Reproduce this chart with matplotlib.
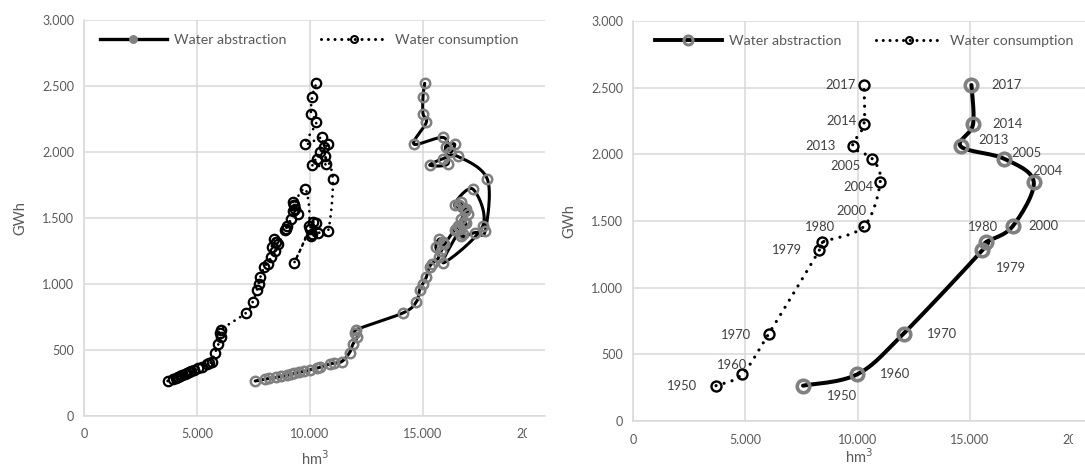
import numpy as np
import matplotlib
matplotlib.use('Agg')
from matplotlib import pyplot as plt
from matplotlib.ticker import FuncFormatter, FixedLocator
from matplotlib.transforms import Bbox, TransformedBbox
from matplotlib.lines import Line2D

plt.rcParams['font.family'] = ['Lato', 'DejaVu Sans']

# annual series 1950-2017: energy (GWh) shared by both series, volumes in hm3
years = list(range(1950, 2018))
gwh = [265, 278, 285, 292, 300, 308, 315, 322, 330, 338,
       350, 362, 370, 395, 400, 412, 480, 545, 600, 630,
       655, 781, 864, 955, 1003, 1050, 1130, 1155, 1205, 1282,
       1340, 1320, 1250, 1300, 1410, 1440, 1420, 1490, 1550, 1600,
       1620, 1570, 1530, 1600, 1720, 1440, 1160, 1420, 1470, 1380,
       1459, 1360, 1390, 1400, 1793, 1967, 1950, 1900, 1910, 2040,
       2060, 2000, 2110, 2060, 2224, 2290, 2420, 2520]
consumption = [3700, 3950, 4050, 4150, 4250, 4350, 4450, 4550, 4650, 4750,
               4850, 5050, 5200, 5450, 5550, 5650, 5800, 5950, 6050, 6000,
               6050, 7169, 7461, 7651, 7725, 7798, 7973, 8120, 8266, 8303,
               8408, 8500, 8450, 8600, 8900, 9000, 8950, 9150, 9250, 9300,
               9250, 9350, 9450, 9300, 9800, 9950, 9300, 10000, 10150, 10100,
               10283, 10050, 10350, 10800, 11012, 10654, 10300, 10100, 10700, 10600,
               10800, 10450, 10550, 9791, 10283, 10050, 10100, 10283]
abstraction = [7574, 8000, 8200, 8500, 8700, 9000, 9150, 9300, 9500, 9750,
               9985, 10300, 10450, 10900, 11050, 11400, 11750, 11900, 12100, 12000,
               12050, 14117, 14703, 14849, 14995, 15142, 15288, 15400, 15700, 15566,
               15714, 15900, 15800, 15950, 16400, 16550, 16450, 16700, 16850, 16600,
               16700, 16900, 17000, 16400, 17200, 17650, 15900, 16650, 16800, 16750,
               16905, 16700, 17300, 17750, 17850, 16530, 15900, 15300, 16100, 16000,
               16400, 16200, 15900, 14597, 15146, 15000, 15000, 15075]

# selected years shown in the right chart
sel_years = [1950, 1960, 1970, 1979, 1980, 2000, 2004, 2005, 2013, 2014, 2017]

# label placement for the right chart: (dx px, dy px, ha)
cons_lbl = {1950: (-19, 0, 'right'), 1960: (-10, 9, 'center'), 1970: (-18, -1, 'right'),
            1979: (-17, 0, 'right'), 1980: (-2, 15, 'center'), 2000: (-12, 15, 'center'),
            2004: (-7, -5, 'right'), 2005: (-12, -7, 'right'), 2013: (-17, 0, 'right'),
            2014: (-7, 3, 'right'), 2017: (-8, 0, 'right')}
abs_lbl = {1950: (24, -10, 'left'), 1960: (23, 0, 'left'), 1970: (23, 0, 'left'),
           1979: (13, -18, 'left'), 1980: (-3, 15, 'center'), 2000: (16, 0, 'left'),
           2004: (-1, 11, 'left'), 2005: (7, 6, 'left'), 2013: (18, 6, 'left'),
           2014: (19, 0, 'left'), 2017: (20, 0, 'left')}

GRAY = '#595959'
GRID = '#d9d9d9'
MK_GRAY = '#808080'


def smooth(x, y, sx, sy, n=16):
    # Bezier smoothing through the points, done in pixel-ish space like Excel
    p = np.column_stack([np.asarray(x, float) * sx, np.asarray(y, float) * sy])
    ext = np.vstack([p[0], p, p[-1]])
    out = []
    t = np.linspace(0, 1, n, endpoint=False)[:, None]
    for i in range(1, len(ext) - 2):
        p0, p1, p2, p3 = ext[i - 1], ext[i], ext[i + 1], ext[i + 2]
        c1 = p1 + (p2 - p0) / 6
        c2 = p2 - (p3 - p1) / 6
        seg = ((1 - t) ** 3) * p1 + 3 * ((1 - t) ** 2) * t * c1 + 3 * (1 - t) * t ** 2 * c2 + t ** 3 * p2
        out.append(seg)
    out.append(p[-1][None, :])
    out = np.vstack(out)
    return out[:, 0] / sx, out[:, 1] / sy


def style_axes(ax, xmax, xpad):
    ax.set_xlim(0, xmax)
    ax.set_ylim(0, 3000)
    ax.xaxis.set_major_locator(FixedLocator([0, 5000, 10000, 15000, 20000]))
    ax.yaxis.set_major_locator(FixedLocator([0, 500, 1000, 1500, 2000, 2500, 3000]))
    fmt = FuncFormatter(lambda v, pos: f'{int(v):,}'.replace(',', '.'))
    ax.xaxis.set_major_formatter(fmt)
    ax.yaxis.set_major_formatter(fmt)
    ax.grid(True, color=GRID, linewidth=1.1)
    ax.set_axisbelow(True)
    for s in ['top', 'right']:
        ax.spines[s].set_visible(False)
    for s in ['left', 'bottom']:
        ax.spines[s].set_color(GRID)
        ax.spines[s].set_linewidth(1.1)
    ax.tick_params(length=0, labelsize=9, labelcolor=GRAY)
    ax.tick_params(axis='x', pad=9)
    ax.tick_params(axis='y', pad=7)
    ax.set_xlabel('hm$^3$', color=GRAY, fontsize=10.5, labelpad=xpad)
    ax.set_ylabel('GWh', color=GRAY, fontsize=10.5, labelpad=11)
    ax.patch.set_alpha(0)


W, H = 1085, 467
fig = plt.figure(figsize=(W / 100, H / 100), dpi=100)

# left chart, cropped at its right edge like the source
ax1 = fig.add_axes([84 / W, (H - 416) / H, (545 - 84) / W, 396 / H])
xmax1 = 20000 * (545 - 84) / (536 - 84)
style_axes(ax1, xmax1, 6)
sx1, sy1 = 452 / 20000, 396 / 3000

xs, ys = smooth(abstraction, gwh, sx1, sy1)
ax1.plot(xs, ys, color='black', lw=2.2, solid_capstyle='round', zorder=2)
ax1.plot(abstraction, gwh, ls='none', marker='o', ms=6.8, mfc='none', mec=MK_GRAY, mew=1.8, zorder=3)
xs, ys = smooth(consumption, gwh, sx1, sy1)
ax1.plot(xs, ys, color='black', lw=2.0, ls=(0, (0.01, 2.4)), dash_capstyle='round', zorder=4)
ax1.plot(consumption, gwh, ls='none', marker='o', ms=6.8, mfc='none', mec='black', mew=1.6, zorder=5)

# right chart, selected years only
ax2 = fig.add_axes([633 / W, (H - 421) / H, (W - 633) / W, 400 / H])
xmax2 = 20000 * (W - 633) / (1082 - 633)
style_axes(ax2, xmax2, 1)
sx2, sy2 = 449 / 20000, 400 / 3000

idx = [years.index(y) for y in sel_years]
a_sel = [abstraction[i] for i in idx]
c_sel = [consumption[i] for i in idx]
g_sel = [gwh[i] for i in idx]

xs, ys = smooth(a_sel, g_sel, sx2, sy2)
ax2.plot(xs, ys, color='black', lw=2.9, solid_capstyle='round', zorder=2)
ax2.plot(a_sel, g_sel, ls='none', marker='o', ms=9, mfc='none', mec=MK_GRAY, mew=2.6, zorder=3)
xs, ys = smooth(c_sel, g_sel, sx2, sy2)
ax2.plot(xs, ys, color='black', lw=2.3, ls=(0, (0.01, 2.6)), dash_capstyle='round', zorder=4)
ax2.plot(c_sel, g_sel, ls='none', marker='o', ms=7.2, mfc='none', mec='black', mew=1.7, zorder=5)

for yr, cx, ax_, gy in zip(sel_years, c_sel, a_sel, g_sel):
    dx, dy, ha = cons_lbl[yr]
    ax2.annotate(str(yr), (cx, gy), xytext=(dx, dy), textcoords='offset pixels',
                 ha=ha, va='center', fontsize=9.4, color='#404040', zorder=6)
    dx, dy, ha = abs_lbl[yr]
    ax2.annotate(str(yr), (ax_, gy), xytext=(dx, dy), textcoords='offset pixels',
                 ha=ha, va='center', fontsize=9.4, color='#404040', zorder=6)

# legends
for ax, x0, big in [(ax1, 16, False), (ax2, 22, True)]:
    h1 = Line2D([], [], color='black', lw=2.8 if big else 2.4, marker='o',
                ms=6.5 if big else 5, mfc='none' if big else MK_GRAY, mec=MK_GRAY,
                mew=2.2 if big else 1.4)
    h2 = Line2D([], [], color='black', lw=2.2, ls=(0, (0.01, 2.2)), dash_capstyle='round',
                marker='o', ms=5, mfc='none', mec='black', mew=1.5)
    bb = ax.get_position()
    width_px = bb.width * W
    height_px = bb.height * H
    ax.legend([h1, h2], ['Water abstraction', 'Water consumption'], loc='center left',
              bbox_to_anchor=(x0 / width_px, 1 - 20 / height_px), ncol=2, frameon=False,
              fontsize=10.2, labelcolor=GRAY, handlelength=4.7, handletextpad=0.55,
              columnspacing=2.4, borderpad=0, borderaxespad=0, numpoints=1)

# crop what belongs to the left chart at its panel edge, last x label only shows a sliver
clip_leg = TransformedBbox(Bbox([[0, 0], [545 / W, 1]]), fig.transFigure)
for t in ax1.get_legend().get_texts():
    t.set_clip_box(clip_leg)
    t.set_clip_on(True)
clip_t1 = TransformedBbox(Bbox([[0, 0], [527 / W, 1]]), fig.transFigure)
clip_t2 = TransformedBbox(Bbox([[0, 0], [1073 / W, 1]]), fig.transFigure)
for ax, cb in [(ax1, clip_t1), (ax2, clip_t2)]:
    for t in ax.get_xticklabels():
        t.set_clip_box(cb)
        t.set_clip_on(True)
    ax.xaxis.get_gridlines()[-1].set_visible(False)

fig.savefig('out.png', dpi=100)
